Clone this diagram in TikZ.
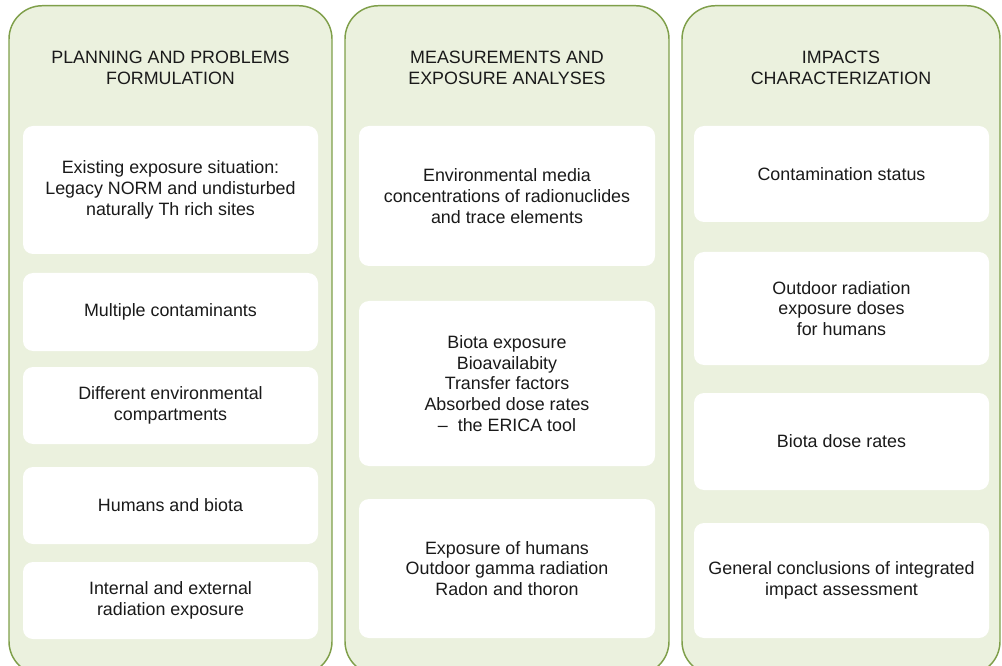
\documentclass[tikz,border=0pt]{standalone}
\usepackage{fontspec}
\setmainfont{Liberation Sans}
\usepackage{tikz}
\usetikzlibrary{positioning}
\definecolor{panelfill}{HTML}{EBF1DE}
\definecolor{paneldraw}{HTML}{7F9F4A}
\definecolor{textgray}{HTML}{1A1A1A}
\tikzstyle{panel} = [rectangle, rounded corners=25pt, minimum height=501.75pt, draw=paneldraw, line width=1.1pt, fill=panelfill]
\tikzstyle{item} = [rectangle, rounded corners=7.5pt, fill=white, align=center, text=textgray, font=\fontsize{13.4}{15.5}\selectfont]
\tikzstyle{heading} = [align=center, text=textgray, font=\fontsize{13.4}{15.5}\selectfont]
\tikzset{boxw/.style={minimum width=#1*0.75pt}, boxh/.style={minimum height=#1*0.75pt}}

\begin{document}
\begin{tikzpicture}[x=0.75pt, y=-0.75pt]
    \useasboundingbox (0,0) rectangle (1002,666);
    \clip (0,0) rectangle (1002,666);

    % Column panels
    \node (planning) [panel, boxw=323, anchor=north] at (170.5,5) {};
    \node (measure) [panel, boxw=324, anchor=north] at (507,5) {};
    \node (impacts) [panel, boxw=318, anchor=north] at (841,5) {};

    % Headings
    \node (planhead) [heading] at (170.5,68) {PLANNING AND PROBLEMS\\FORMULATION};
    \node (meashead) [heading] at (507,68) {MEASUREMENTS AND\\EXPOSURE ANALYSES};
    \node (imphead) [heading] at (841,68) {IMPACTS\\CHARACTERIZATION};

    % Planning boxes
    \node (existing) [item, boxw=295, boxh=128] at (170.5,190) {Existing exposure situation:\\Legacy NORM and undisturbed\\naturally Th rich sites};
    \node (multiple) [item, boxw=295, boxh=78] at (170.5,312) {Multiple contaminants};
    \node (compart) [item, boxw=295, boxh=77] at (170.5,405.5) {Different environmental\\compartments};
    \node (humbiota) [item, boxw=295, boxh=77] at (170.5,505.5) {Humans and biota};
    \node (intext) [item, boxw=295, boxh=77] at (170.5,600.5) {Internal and external\\radiation exposure};

    % Measurement boxes
    \node (media) [item, boxw=296, boxh=140] at (507,196) {Environmental media\\concentrations of radionuclides\\and trace elements};
    \node (biotaexp) [item, boxw=296, boxh=165] at (507,383.5) {Biota exposure\\Bioavailabity\\Transfer factors\\Absorbed dose rates\\–\ \ the ERICA tool};
    \node (humexp) [item, boxw=296, boxh=139] at (507,568.5) {Exposure of humans\\Outdoor gamma radiation\\Radon and thoron};

    % Impact boxes
    \node (status) [item, boxw=295, boxh=96] at (841.5,174) {Contamination status};
    \node (doses) [item, boxw=295, boxh=113] at (841.5,308.5) {Outdoor radiation\\exposure doses\\for humans};
    \node (biotarate) [item, boxw=295, boxh=97] at (841.5,441.5) {Biota dose rates};
    \node (general) [item, boxw=295, boxh=115] at (841.5,580.5) {General conclusions of integrated\\impact assessment};
\end{tikzpicture}
\end{document}
